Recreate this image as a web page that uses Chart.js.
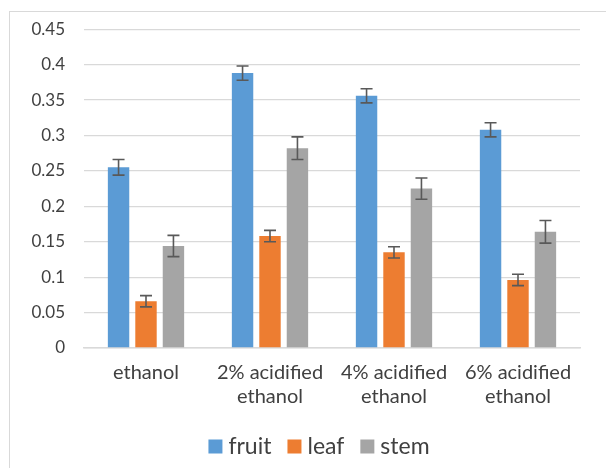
<!DOCTYPE html>
<html>
<head>
<meta charset="utf-8">
<script src="https://cdn.jsdelivr.net/npm/chart.js@4.4.1/dist/chart.umd.min.js"></script>
<style>
  html, body { margin: 0; padding: 0; background: #fff; }
  #wrap { position: relative; width: 606px; height: 468px; overflow: hidden; }
  #frame { position: absolute; left: 9px; top: 11px; width: 640px; height: 500px; border: 1.5px solid #d9d9d9; }
  #chart { position: absolute; left: 0; top: 0; }
</style>
</head>
<body>
<div id="wrap">
  <div id="frame"></div>
  <canvas id="chart" width="606" height="468"></canvas>
</div>
<script>
// categories (solvent)
const categories = [
  'ethanol',
  ['2% acidified', 'ethanol'],
  ['4% acidified', 'ethanol'],
  ['6% acidified', 'ethanol']
];

// mean values per plant part
const fruitValues = [0.255, 0.388, 0.356, 0.308];
const leafValues = [0.066, 0.158, 0.135, 0.096];
const stemValues = [0.144, 0.282, 0.225, 0.164];

// error bar half lengths
const fruitErrors = [0.011, 0.010, 0.010, 0.010];
const leafErrors = [0.008, 0.008, 0.008, 0.008];
const stemErrors = [0.015, 0.016, 0.015, 0.016];

const yTicks = [0, 0.05, 0.1, 0.15, 0.2, 0.25, 0.3, 0.35, 0.4, 0.45];

const textColor = '#404040';
const gridColor = '#d9d9d9';

// draws error bars on top of each bar
const errorBars = {
  id: 'errorBars',
  afterDatasetsDraw(chart) {
    const ctx = chart.ctx;
    const yScale = chart.scales.y;
    ctx.save();
    ctx.strokeStyle = '#595959';
    ctx.lineWidth = 1.6;
    chart.data.datasets.forEach((ds, i) => {
      const meta = chart.getDatasetMeta(i);
      meta.data.forEach((bar, j) => {
        const v = ds.data[j];
        const e = ds.errors[j];
        const top = yScale.getPixelForValue(v + e);
        const bottom = yScale.getPixelForValue(v - e);
        const x = bar.x;
        const cap = 6;
        ctx.beginPath();
        ctx.moveTo(x, top);
        ctx.lineTo(x, bottom);
        ctx.moveTo(x - cap, top);
        ctx.lineTo(x + cap, top);
        ctx.moveTo(x - cap, bottom);
        ctx.lineTo(x + cap, bottom);
        ctx.stroke();
      });
    });
    ctx.restore();
  }
};

// legend box spans 0..580 (right padding), original is centred further right
const legendShift = {
  id: 'legendShift',
  afterLayout(chart) {
    const l = chart.legend;
    l.left += 31.75;
    l.right += 31.75;
  }
};

const ctx = document.getElementById('chart').getContext('2d');
new Chart(ctx, {
  type: 'bar',
  data: {
    labels: categories,
    datasets: [
      { label: 'fruit', data: fruitValues, errors: fruitErrors, backgroundColor: '#5b9bd5' },
      { label: 'leaf', data: leafValues, errors: leafErrors, backgroundColor: '#ed7d31' },
      { label: 'stem', data: stemValues, errors: stemErrors, backgroundColor: '#a5a5a5' }
    ]
  },
  options: {
    responsive: false,
    animation: false,
    devicePixelRatio: 1,
    categoryPercentage: 0.664,
    barPercentage: 0.78,
    layout: { padding: { left: 0, top: 28, right: 26, bottom: 0 } },
    plugins: {
      tooltip: { enabled: false },
      legend: {
        position: 'bottom',
        labels: {
          color: textColor,
          font: { family: 'Lato', size: 23 },
          // narrow box width + rect point style keeps the square close to its text
          usePointStyle: true,
          pointStyle: 'rect',
          boxWidth: 3,
          boxHeight: 14,
          padding: 21.5
        }
      }
    },
    scales: {
      x: {
        grid: { display: false, drawTicks: false },
        border: { display: true, color: gridColor, width: 1.5 },
        ticks: {
          color: textColor,
          font: { family: 'Lato', size: 20, lineHeight: 1.2 },
          padding: 13,
          maxRotation: 0,
          autoSkip: false
        },
        afterFit(scale) { scale.height = 65.5; }
      },
      y: {
        min: 0,
        max: 0.45,
        afterBuildTicks(scale) { scale.ticks = yTicks.map(v => ({ value: v })); },
        grid: { color: gridColor, lineWidth: 1.3, drawTicks: false },
        border: { display: false },
        ticks: {
          color: textColor,
          font: { family: 'Lato', size: 17 },
          padding: 19,
          callback: v => String(Number(v.toFixed(2)))
        },
        afterFit(scale) { scale.width = 84; }
      }
    }
  },
  plugins: [errorBars, legendShift]
});
</script>
</body>
</html>
